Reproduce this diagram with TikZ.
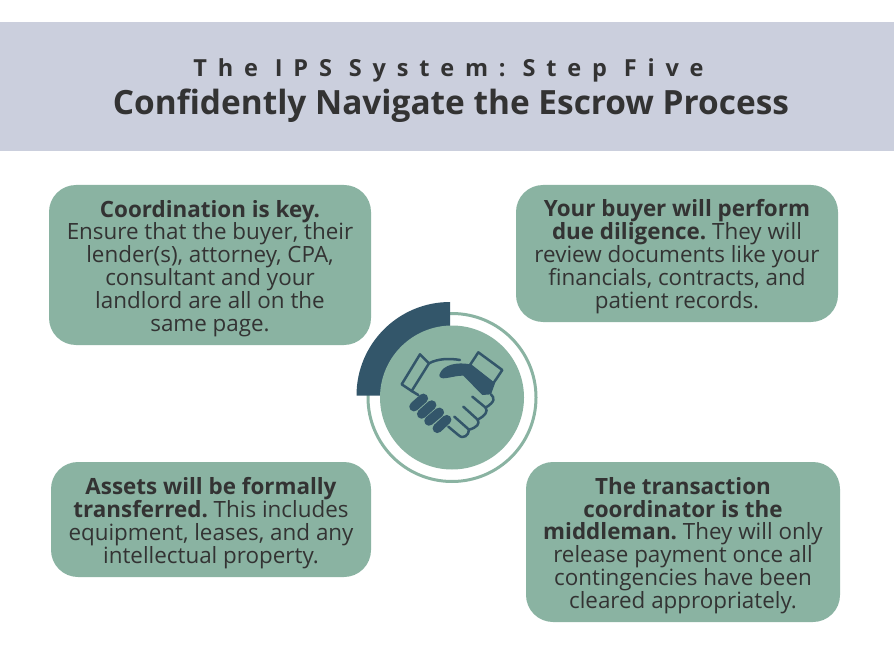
\documentclass[tikz,border=0pt]{standalone}
\usepackage{fontspec}
\setmainfont{Open Sans}
\definecolor{bannerblue}{HTML}{CBCFDD}
\definecolor{sage}{HTML}{8AB3A2}
\definecolor{slate}{HTML}{33566A}
\definecolor{ink}{HTML}{333333}
\tikzset{
	card/.style={fill=sage, rounded corners=27pt},
	cardtext/.style={text=ink, align=center, font=\fontsize{22.4}{22.8}\selectfont, inner sep=0pt},
	hand/.style={draw=slate, line width=2.5pt, line join=round, line cap=round},
	knuckle/.style={draw=slate, line width=9.5pt, line cap=round},
}
\frenchspacing
\begin{document}
\begin{tikzpicture}[x=1pt, y=-1pt]
	\useasboundingbox (0,0) rectangle (894,660);
	\fill[bannerblue] (0,22) rectangle (894,151);
	\node[text=ink, font=\bfseries\fontsize{23.5}{26}\selectfont] (kicker) at (448.5,70) {\addfontfeature{LetterSpace=46}The IPS System: Step Five};
	\node[text=ink, font=\bfseries\fontsize{33.4}{36}\selectfont] (headline) at (451,106) {Confidently Navigate the Escrow Process};

	\fill[card] (49,185) rectangle (371,345);
	\fill[card] (516,185) rectangle (838,322);
	\fill[card] (51,462) rectangle (371,577);
	\fill[card] (526,462) rectangle (840,622);

	\node[cardtext] (coordination) at (210,268.3) {\textbf{Coordination is key.}\\Ensure that the buyer, their\\lender(s), attorney, CPA,\\consultant and your\\landlord are all on the\\same page.};
	\node[cardtext] (diligence) at (677,256.7) {\textbf{Your buyer will perform}\\\textbf{due diligence.} They will\\review documents like your\\financials, contracts, and\\patient records.};
	\node[cardtext] (assets) at (211,523) {\textbf{Assets will be formally}\\\textbf{transferred.} This includes\\equipment, leases, and any\\intellectual property.};
	\node[cardtext] (coordinator) at (683,545.5) {\textbf{The transaction}\\\textbf{coordinator is the}\\\textbf{middleman.} They will only\\release payment once all\\contingencies have been\\cleared appropriately.};

	\draw[sage, line width=3pt] (452,397.5) circle (84);
	\fill[slate] (450,395.5) -- (356.5,395.5) arc[start angle=180, end angle=270, radius=93.5] -- cycle;
	\fill[sage] (452,397.5) circle (72);

	\begin{scope}[shift={(395,345)}, x=0.3333pt, y=-0.3333pt]
		\draw[hand] (75,28) -- (20,118) -- (50,138) -- (102,55) -- cycle;
		\draw[hand] (102,55) .. controls (130,40) and (165,40) .. (195,45);
		\draw[hand] (250,22) -- (322,75) -- (295,115) -- (225,60) -- cycle;
		\fill[slate] (135,85) .. controls (145,60) and (185,50) .. (226,58) -- (300,115) -- (288,148) -- (262,150) -- (205,92) .. controls (180,92) and (160,100) .. (145,100) .. controls (135,100) and (130,92) .. (135,85) -- cycle;
		\draw[hand] (288,148) .. controls (300,160) and (300,170) .. (272,188) .. controls (280,200) and (270,212) .. (248,224) .. controls (256,236) and (245,248) .. (222,254) .. controls (222,270) and (205,285) .. (190,270) -- (160,245);
		\draw[hand] (232,155) -- (272,188);
		\draw[hand] (205,185) -- (248,224);
		\draw[hand] (178,215) -- (222,254);
		\draw[hand] (50,138) -- (70,150);
		\draw[knuckle] (57,185) -- (85,160);
		\draw[knuckle] (80,207) -- (110,180);
		\draw[knuckle] (102,228) -- (133,202);
		\draw[knuckle] (127,250) -- (155,224);
	\end{scope}
\end{tikzpicture}
\end{document}
